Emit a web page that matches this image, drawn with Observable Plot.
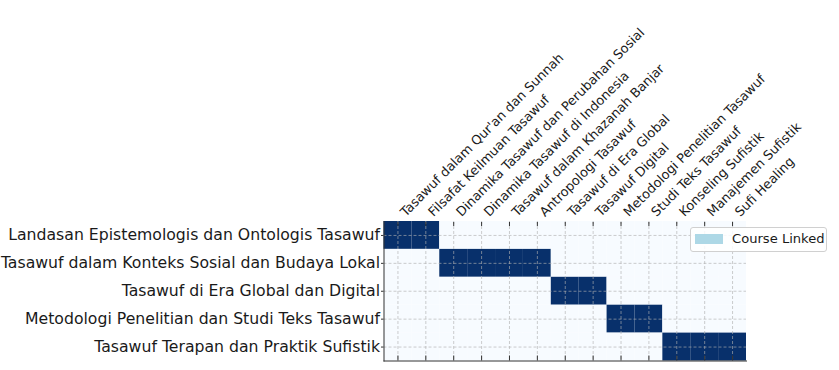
<!DOCTYPE html>
<html>
<head>
<meta charset="utf-8">
<script src="https://cdn.jsdelivr.net/npm/d3@7"></script>
<script src="https://cdn.jsdelivr.net/npm/@observablehq/plot@0.6"></script>
<style>
  body { margin: 0; background: #fff; font-family: "DejaVu Sans", sans-serif; }
  #wrap { position: relative; width: 839px; height: 370px; }
  #legend { position: absolute; left: 690px; top: 227px; width: 135px; height: 23px;
    border: 1px solid #d0d0d0; border-radius: 3px; background: rgba(255,255,255,0.85);
    font-family: "DejaVu Sans", sans-serif; font-size: 13.1px; color: #1a1a1a; }
  #legend .sw { position: absolute; left: 4px; top: 6px; width: 28px; height: 10px; background: #add8e6; }
  #legend .lb { position: absolute; left: 41px; top: 3px; white-space: nowrap; }
</style>
</head>
<body>
<div id="wrap">
  <div id="chart"></div>
  <div id="legend"><div class="sw"></div><div class="lb">Course Linked</div></div>
</div>
<script>
const modules = [
  "Landasan Epistemologis dan Ontologis Tasawuf",
  "Tasawuf dalam Konteks Sosial dan Budaya Lokal",
  "Tasawuf di Era Global dan Digital",
  "Metodologi Penelitian dan Studi Teks Tasawuf",
  "Tasawuf Terapan dan Praktik Sufistik"
];
const courses = [
  "Tasawuf dalam Qur'an dan Sunnah",
  "Filsafat Keilmuan Tasawuf",
  "Dinamika Tasawuf dan Perubahan Sosial",
  "Dinamika Tasawuf di Indonesia",
  "Tasawuf dalam Khazanah Banjar",
  "Antropologi Tasawuf",
  "Tasawuf di Era Global",
  "Tasawuf Digital",
  "Metodologi Penelitian Tasawuf",
  "Studi Teks Tasawuf",
  "Konseling Sufistik",
  "Manajemen Sufistik",
  "Sufi Healing"
];
// module index each course is linked to
const courseModule = [0, 0, 1, 1, 1, 1, 2, 2, 3, 3, 4, 4, 4];

const cells = [];
modules.forEach((m, i) => courses.forEach((c, j) => {
  cells.push({module: m, course: c, linked: courseModule[j] === i ? 1 : 0});
}));

const chart = Plot.plot({
  width: 839,
  height: 370,
  marginTop: 221,
  marginBottom: 9.5,
  marginLeft: 383.5,
  marginRight: 93,
  style: {fontFamily: "DejaVu Sans, sans-serif", color: "#1a1a1a", background: "transparent"},
  x: {domain: courses, padding: 0, round: false, axis: null},
  y: {domain: modules, padding: 0, round: false, axis: null},
  color: {type: "linear", domain: [0, 1], range: ["#f7fbff", "#08306b"]},
  marks: [
    Plot.cell(cells, {x: "course", y: "module", fill: "linked"}),
    Plot.ruleX(courses, {x: d => d, stroke: "#b0b0b0", strokeWidth: 0.8, strokeDasharray: "3,2", strokeOpacity: 0.8}),
    Plot.ruleY(modules, {y: d => d, stroke: "#b0b0b0", strokeWidth: 0.8, strokeDasharray: "3,2", strokeOpacity: 0.8}),
    Plot.axisX({anchor: "bottom", tickSize: -5, tickFormat: () => "", label: null, stroke: "#333"}),
    Plot.axisX({anchor: "top", tickSize: -4, tickFormat: () => "", label: null, stroke: "#333"}),
    Plot.axisY({anchor: "left", tickSize: 2.5, tickPadding: 1.5, fontSize: 15.7, label: null, stroke: "#333", fill: "#1a1a1a"}),
    Plot.text(courses, {x: d => d, text: d => d, frameAnchor: "top", rotate: -45, textAnchor: "start",
      lineAnchor: "bottom", dy: -4.3, dx: 7.7, fontSize: 12.9, fill: "#1a1a1a"}),
    Plot.frame({anchor: "left", stroke: "#333"}),
    Plot.frame({anchor: "bottom", stroke: "#333"})
  ]
});
document.getElementById("chart").appendChild(chart);
</script>
</body>
</html>
